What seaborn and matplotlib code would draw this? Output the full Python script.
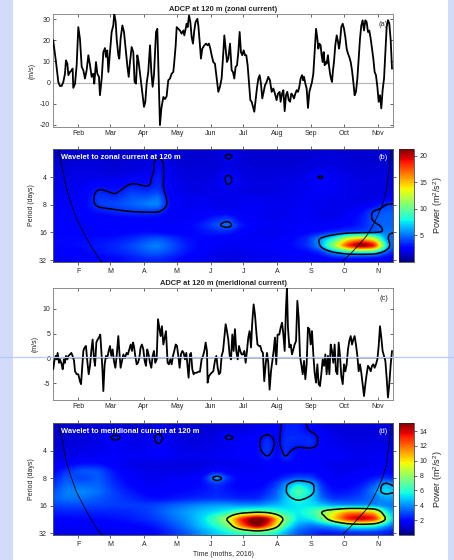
import numpy as np
import pandas as pd
import matplotlib
matplotlib.use("Agg")
import matplotlib.pyplot as plt
import matplotlib.dates as mdates
import seaborn as sns
from matplotlib.patches import Rectangle
from matplotlib.lines import Line2D

sns.set_theme(style="ticks")
plt.rcParams["font.family"] = ["Liberation Sans", "DejaVu Sans"]
plt.rcParams["mathtext.default"] = "regular"

# ---------------- data (day of year 2016, 0 = Jan 1) ----------------
zonal_doy = [8.0, 10.6, 12.7, 14.2, 15.8, 17.3, 18.8, 19.7, 21.0, 21.9, 23.4, 24.9, 25.8, 26.4, 28.0, 29.5,
             31.0, 32.5, 34.1, 35.6, 37.1, 38.6, 40.2, 41.7, 43.2, 44.7, 45.6, 47.2, 48.4, 49.9, 50.8, 52.4,
             53.9, 55.4, 56.3, 57.5, 58.5, 60.0, 61.5, 63.0, 63.9, 65.2, 66.1, 67.6, 68.5, 69.7, 71.3, 72.8,
             74.6, 75.8, 77.1, 78.3, 79.8, 81.3, 82.5, 83.8, 85.0, 86.2, 88.0, 89.9, 91.1, 92.3, 93.5, 95.0,
             96.6, 97.8, 99.0, 100.2, 102.1, 103.3, 104.5, 105.7, 107.0, 108.8, 110.3, 111.8, 113.3, 114.9,
             116.4, 117.9, 118.8, 120.1, 121.0, 122.5, 124.0, 125.5, 127.1, 128.0, 129.2, 130.1, 131.0, 132.3,
             133.5, 134.7, 135.9, 137.1, 138.3, 139.9, 140.8, 142.3, 143.2, 144.4, 146.3, 147.8, 149.3, 150.5,
             151.8, 153.0, 154.5, 156.0, 157.6, 159.1, 160.6, 162.1, 163.7, 164.6, 165.8, 167.0, 168.2, 169.8,
             171.3, 172.5, 173.7, 174.9, 176.2, 177.4, 178.6, 179.8, 181.0, 182.3, 183.5, 184.7, 185.9, 187.1,
             188.4, 189.6, 190.8, 192.0, 193.2, 194.4, 195.7, 196.9, 198.1, 199.3, 200.5, 201.8, 203.3, 204.8,
             206.3, 207.9, 209.4, 210.9, 212.4, 213.7, 215.2, 216.1, 217.4, 218.6, 219.8, 221.0, 222.2, 223.5,
             224.7, 225.9, 227.1, 228.3, 229.6, 230.8, 232.0, 233.2, 234.4, 235.7, 236.6, 237.5, 238.7, 239.9,
             241.1, 242.4, 243.6, 244.8, 246.0, 247.2, 248.5, 249.7, 250.6, 251.5, 252.7, 253.6, 254.6, 255.5,
             256.4, 257.3, 258.2, 259.4, 260.3, 261.3, 262.2, 263.1, 264.0, 264.9, 266.1, 267.4, 268.6, 269.5,
             270.4, 271.6, 272.9, 274.1, 275.3, 276.5, 277.7, 278.9, 280.2, 281.4, 282.6, 283.8, 285.0, 286.3,
             287.5, 288.7, 289.9, 291.1, 292.4, 293.6, 294.8, 296.0, 297.2, 298.5, 299.7, 300.9, 302.1, 303.3,
             304.6, 305.8, 307.0, 308.2, 309.4, 310.7, 311.9, 313.1, 314.3, 315.5, 316.8, 318.0]
zonal_u = [20.0, 9.7, 0.3, -1.6, -1.6, 0.3, 4.2, 10.5, 8.9, 3.5, 5.0, 5.8, 6.6, -2.5, -0.5, 8.2,
           26.2, 20.7, 7.4, 5.8, 1.9, 5.8, 12.9, 8.2, 2.7, 4.2, -0.5, 9.7, 4.2, 2.7, -6.0, 1.9,
           14.4, 16.3, 12.1, 15.2, 5.0, 14.4, 23.9, 27.0, 32.5, 28.6, 20.7, 12.9, 11.3, 20.7, 27.0, 23.9,
           14.4, 8.2, 2.7, 9.7, 16.8, 14.4, 0.3, -0.5, 12.9, 9.7, 1.9, -6.0, -11.5, -9.1, -0.5, 5.0,
           17.6, 5.0, -2.0, 3.5, 23.9, 25.4, 1.9, -20.1, -12.2, -6.8, -7.8, -6.5, 1.1, 1.9,
           4.2, 5.0, 9.7, 17.6, 26.2, 25.4, 24.6, 23.1, 24.6, 22.3, 25.4, 27.8, 26.2, 31.7,
           28.6, 21.5, 18.4, 24.6, 28.6, 30.1, 27.0, 17.6, 11.3, 16.0, 17.6, 18.4, 17.6, 18.4,
           16.0, 12.9, 9.7, 8.9, 1.9, -4.4, -2.0, 1.9, 14.4, 22.3, 16.0, 9.7, 11.3, 18.4,
           5.8, 5.0, 1.9, 7.4, 8.2, 14.4, 23.9, 14.4, 12.9, 15.2, 12.9, 12.9, 8.2, 0.3,
           -8.3, -9.1, -11.5, -13.8, -8.3, -2.8, 1.9, 3.5, -0.5, -7.5, -4.4, -1.3, 0.3, 2.7,
           1.1, -4.4, -2.8, -5.2, -8.3, -5.2, -4.4, -9.1, -5.2, -3.6, -13.5, -6.0, -4.4, -8.3,
           -9.1, -5.2, -6.0, -7.5, -5.2, -3.6, -4.4, -2.0, 1.9, 3.5, 1.1, 2.7, -0.5, -2.8,
           -12.0, -4.4, -2.0, 0.3, 4.2, 14.4, 25.4, 20.7, 16.0, 18.4, 17.6, 12.9, 9.7, 14.4,
           8.2, 9.7, 8.9, 12.9, 8.2, 4.2, 1.9, 0.3, 5.8, 9.7, 17.6, 22.3, 19.2, 16.0,
           19.2, 26.2, 27.8, 25.4, 21.5, 16.0, 13.7, 12.1, 9.7, 5.8, 0.3, -6.0, -4.4, 1.9,
           11.3, 20.7, 27.0, 29.4, 24.6, 29.4, 28.6, 23.9, 24.6, 20.7, 16.0, 11.3, 5.0, 3.5,
           -2.0, -9.1, -6.0, -12.2, -3.6, 1.9, 14.4, 26.2, 29.5, 28.0, 20.0, 6.5]

merid_doy = [8.1, 9.1, 10.3, 11.2, 12.1, 13.3, 14.2, 15.8, 16.7, 17.9, 18.8, 19.7, 21.0, 21.9, 23.4, 24.6,
             25.8, 27.1, 28.0, 29.5, 31.0, 32.5, 33.5, 34.7, 35.6, 36.8, 38.0, 39.2, 40.5, 41.7, 42.9, 44.1,
             45.3, 46.3, 47.5, 48.7, 49.9, 51.1, 52.0, 53.0, 53.9, 55.1, 56.3, 57.5, 58.8, 60.0, 61.2, 62.4,
             63.6, 64.9, 66.1, 67.6, 68.5, 69.7, 71.0, 72.2, 73.7, 75.2, 76.4, 77.7, 78.9, 80.1, 81.0, 81.9,
             83.1, 84.4, 85.6, 86.8, 88.0, 89.2, 90.5, 91.7, 92.9, 94.1, 95.3, 96.6, 97.8, 99.0, 100.2, 101.4,
             102.7, 103.9, 105.1, 106.3, 107.5, 108.8, 110.0, 111.2, 112.7, 113.9, 115.2, 116.4, 117.6, 118.8,
             120.1, 121.3, 122.5, 123.7, 124.9, 126.2, 127.4, 128.6, 129.8, 131.0, 131.9, 133.2, 134.1, 135.3,
             136.5, 137.7, 139.3, 140.8, 142.3, 143.8, 145.1, 146.3, 147.5, 148.7, 149.3, 150.5, 151.8, 153.0,
             154.5, 156.0, 157.3, 158.5, 159.7, 160.9, 162.1, 163.4, 164.6, 165.8, 167.0, 168.2, 169.5, 170.7,
             171.9, 173.1, 174.3, 175.5, 176.8, 178.0, 179.2, 180.4, 181.6, 182.9, 184.1, 185.3, 186.5, 187.7,
             189.0, 190.2, 191.4, 192.6, 193.8, 194.9, 196.3, 197.5, 198.7, 199.9, 201.1, 202.4, 203.6, 204.8,
             206.0, 207.3, 208.5, 209.7, 210.9, 212.1, 213.3, 214.9, 216.1, 217.4, 218.6, 219.8, 221.0, 221.9,
             222.8, 224.1, 225.3, 226.5, 227.7, 228.9, 230.2, 231.4, 232.6, 233.8, 235.0, 236.3, 237.5, 238.7,
             239.9, 241.1, 242.4, 243.6, 244.8, 246.0, 247.2, 248.5, 249.7, 250.9, 252.1, 253.3, 254.6, 255.8,
             257.0, 258.2, 259.4, 260.7, 261.9, 263.1, 264.3, 265.5, 266.7, 268.0, 269.2, 270.4, 271.6, 272.9,
             274.1, 275.3, 276.5, 277.7, 278.9, 280.2, 281.4, 282.6, 283.8, 285.0, 286.3, 287.5, 288.7, 289.9,
             291.1, 292.4, 293.6, 294.8, 296.0, 297.2, 298.5, 299.7, 300.9, 302.1, 303.3, 304.6, 305.8, 307.0,
             308.2, 309.4, 310.7, 311.9, 313.1, 314.3, 315.5, 316.8, 318.0]
merid_v = [-2.2, -0.5, 0.5, -0.2, 1.1, -0.9, -0.2, -1.2, -2.2, -0.2, -0.9, 0.5, -0.2, 0.5, 0.8, 1.1,
           0.5, -0.5, -2.6, -3.2, -3.2, -4.6, -5.2, -1.2, 1.5, 2.2, 2.5, -0.5, -3.2, -1.5, 1.5, 3.8,
           0.1, -1.5, 3.2, 3.8, 4.2, 4.8, 1.8, -1.9, -6.6, -1.2, 0.5, 0.1, 1.5, 2.5, 0.5, 1.8,
           -0.5, -1.9, 0.5, 4.5, 1.5, -1.9, -0.5, 0.8, 0.1, 1.1, 0.8, 1.8, 2.8, 1.5, 3.2, 2.5,
           0.5, -1.2, -0.9, 0.1, 2.2, 2.8, 1.8, -0.5, -1.5, 1.8, 0.8, -0.9, -1.9, 0.5, 1.5, -0.9,
           -0.2, 7.9, 6.2, 4.5, 6.5, 2.8, 4.2, 5.5, -0.9, -1.2, -0.2, -1.2, 0.5, 1.5,
           2.8, 2.5, 0.5, -1.9, 0.8, 1.5, 1.1, -0.2, 1.1, -1.9, -3.9, 0.8, 1.1, -2.2,
           -3.2, -2.9, -2.9, -2.7, -2.7, -0.2, 0.5, 1.5, 3.2, 1.5, -4.9, -3.6, -3.2, -2.9,
           -2.6, -0.5, 0.5, -1.9, -3.2, -2.9, 0.5, 1.5, 4.2, 6.9, 5.5, 3.8, 0.5, -0.2,
           4.8, 1.5, 5.9, 1.5, -0.2, 2.5, 1.5, 0.8, 0.8, 1.5, -0.9, 1.5, 4.2, 5.5,
           2.2, 7.5, 10.9, 8.9, 5.5, 2.8, 2.5, 2.5, 1.5, 1.1, -4.6, -1.2, 1.1, -0.9,
           -6.3, -2.6, -0.5, 1.5, 4.2, -1.2, 4.8, 4.8, 6.2, 7.2, 4.8, 1.5, 10.2, 14.3,
           6.2, 2.2, 2.8, 0.8, 1.8, 2.8, 3.5, 11.6, 8.2, 0.5, -1.2, -3.2, -0.5, -4.2,
           -1.2, 6.2, 5.9, 2.8, 5.5, 0.8, -2.9, -4.9, -1.2, -5.2, -5.6, -3.2, -0.2, -1.5,
           0.8, -3.2, 0.5, -3.2, 2.8, 1.5, -0.9, 2.8, -2.6, -3.2, 3.2, 0.5, -3.6, -5.2,
           -1.2, -2.6, -1.2, 1.8, 3.5, 4.5, 2.8, 3.8, 4.5, 2.8, 0.5, -2.6, -1.2, -2.9,
           -5.2, -7.6, -5.2, -3.2, -1.5, -1.9, -2.6, -1.5, -1.2, -1.9, -1.2, -0.2, 2.5, 6.5,
           4.2, 1.5, 0.5, -0.5, -3.9, -7.9, -5.2, -1.2, 1.5]

# wavelet power grids (rows: period, columns: day of year)
wl_period = [2.0, 2.38, 2.83, 3.36, 4.0, 4.76, 5.66, 6.73, 8.0, 9.51, 11.31, 13.45, 16.0, 19.03,
             22.63, 26.91, 32.0]
wl_doy_zonal = [8, 20, 35, 50, 65, 80, 95, 104, 115, 130, 145, 158, 168, 180, 195, 210, 225, 240, 252,
                265, 278, 290, 302, 312, 318]
power_zonal = [
    [1.4, 1.5, 1.5, 1.5, 1.5, 1.5, 1.6, 1.8, 1.6, 1.5, 1.5, 1.6, 1.7, 1.6, 1.5, 1.5, 1.5, 1.5, 1.6, 1.6, 1.5, 1.5, 1.5, 1.5, 1.5],
    [1.5, 1.5, 1.6, 1.6, 1.5, 1.6, 1.7, 2.3, 1.7, 1.5, 1.5, 1.6, 2.7, 1.7, 1.5, 1.5, 1.5, 1.6, 1.7, 1.7, 1.6, 1.5, 1.5, 1.5, 1.5],
    [1.6, 1.6, 1.7, 1.7, 1.6, 1.7, 1.8, 2.9, 1.8, 1.6, 1.6, 1.7, 1.9, 1.7, 1.6, 1.6, 1.6, 1.7, 1.8, 1.8, 1.7, 1.6, 1.6, 1.6, 1.6],
    [1.7, 1.8, 1.9, 1.8, 1.7, 1.8, 1.9, 3.1, 2.0, 1.7, 1.7, 1.8, 2.0, 1.8, 1.7, 1.7, 1.7, 1.8, 2.0, 2.0, 1.8, 1.7, 1.7, 1.8, 1.8],
    [1.8, 1.9, 2.0, 2.0, 1.9, 2.1, 2.5, 3.4, 2.1, 1.8, 1.8, 1.9, 3.2, 1.9, 1.8, 1.8, 1.9, 2.0, 3.1, 2.2, 2.0, 1.8, 1.8, 1.9, 1.9],
    [1.9, 2.0, 2.1, 2.5, 2.4, 3.1, 2.8, 3.6, 2.2, 1.9, 1.9, 2.0, 3.3, 2.0, 1.9, 1.9, 2.0, 2.1, 2.4, 2.3, 2.0, 1.9, 1.9, 1.9, 1.9],
    [2.0, 2.1, 2.3, 3.4, 3.0, 3.8, 3.5, 4.0, 2.3, 1.9, 1.9, 2.0, 2.0, 1.9, 1.8, 1.9, 2.0, 2.1, 2.3, 2.3, 2.0, 1.9, 1.8, 1.9, 1.9],
    [2.1, 2.2, 2.4, 3.9, 3.6, 4.5, 4.5, 5.2, 2.6, 2.1, 2.2, 2.0, 2.0, 2.1, 2.1, 2.0, 2.1, 2.2, 2.2, 2.1, 2.0, 1.9, 1.9, 2.1, 2.1],
    [2.2, 2.3, 2.5, 4.0, 4.3, 4.8, 5.5, 5.8, 2.8, 2.1, 2.2, 2.1, 2.0, 2.2, 2.2, 2.1, 2.1, 2.2, 2.1, 2.0, 2.0, 2.0, 2.4, 3.7, 3.9],
    [2.3, 2.4, 2.5, 3.2, 3.6, 3.9, 4.0, 4.0, 2.6, 2.2, 2.3, 2.2, 2.2, 2.2, 2.2, 2.1, 2.2, 2.3, 2.1, 2.0, 2.2, 2.8, 4.2, 4.5, 4.6],
    [2.4, 2.4, 2.4, 2.4, 2.6, 2.7, 2.7, 2.6, 2.3, 2.2, 2.7, 3.5, 3.8, 2.5, 2.2, 2.1, 2.2, 2.3, 2.1, 2.1, 2.4, 3.2, 4.5, 4.8, 4.7],
    [2.5, 2.5, 2.4, 2.3, 2.4, 2.6, 2.6, 2.5, 2.3, 2.6, 3.4, 4.5, 5.4, 3.2, 2.3, 2.2, 2.3, 2.4, 2.3, 2.4, 2.7, 3.3, 4.4, 4.8, 4.8],
    [2.6, 2.6, 2.5, 2.4, 2.5, 2.7, 2.8, 2.7, 2.4, 2.5, 3.0, 3.4, 3.4, 2.6, 2.2, 2.1, 2.3, 2.6, 2.8, 3.4, 3.8, 4.0, 4.3, 5.2, 5.1],
    [2.8, 2.8, 2.8, 2.9, 3.1, 3.5, 4.3, 4.6, 4.0, 3.0, 2.7, 2.5, 2.4, 2.3, 2.2, 2.2, 2.6, 3.5, 5.8, 8.5, 13.5, 15.5, 13.0, 6.0, 4.6],
    [2.8, 2.8, 2.9, 3.1, 3.5, 4.2, 5.2, 5.5, 4.6, 3.3, 2.6, 2.3, 2.2, 2.2, 2.3, 2.4, 2.8, 3.6, 5.8, 12.0, 19.5, 23.0, 20.5, 9.0, 4.5],
    [2.4, 2.5, 2.7, 3.0, 3.3, 3.8, 4.6, 4.7, 4.1, 3.1, 2.4, 2.1, 2.0, 2.1, 2.2, 2.3, 2.5, 2.7, 3.3, 5.5, 7.0, 7.2, 7.0, 4.5, 3.3],
    [2.0, 2.1, 2.3, 2.5, 2.7, 3.1, 3.4, 3.4, 3.1, 2.5, 2.1, 1.9, 1.8, 1.9, 2.0, 2.1, 2.2, 2.2, 2.3, 2.6, 2.5, 2.3, 2.1, 2.0, 2.0],
]
wl_doy_merid = [8, 20, 35, 50, 65, 80, 95, 104, 115, 130, 145, 158, 168, 180, 195, 204, 213, 220, 232,
                245, 255, 265, 278, 290, 302, 312, 318]
power_merid = [
    [1.0, 1.1, 1.1, 1.2, 1.2, 1.1, 1.1, 1.3, 1.2, 1.1, 1.1, 1.2, 1.2, 1.3, 1.4, 1.5, 1.5, 2.3, 2.3, 1.6, 1.4, 1.3, 1.2, 1.2, 1.2, 1.3, 1.3],
    [1.0, 1.1, 1.1, 1.2, 1.3, 1.2, 1.2, 1.8, 1.3, 1.1, 1.2, 1.2, 1.3, 1.3, 1.5, 1.6, 1.6, 2.4, 2.4, 1.8, 1.5, 1.3, 1.2, 1.2, 1.2, 1.3, 1.3],
    [1.1, 1.1, 1.2, 1.3, 2.4, 1.3, 1.4, 2.4, 1.4, 1.2, 1.3, 1.3, 2.4, 1.6, 1.8, 2.3, 1.7, 2.5, 2.5, 2.4, 1.6, 1.4, 1.3, 1.3, 1.3, 1.3, 1.3],
    [1.1, 1.2, 1.3, 1.4, 1.7, 1.4, 1.5, 2.2, 1.5, 1.3, 1.3, 1.4, 1.6, 1.6, 1.9, 2.8, 1.8, 2.6, 2.4, 2.6, 1.6, 1.5, 1.4, 1.3, 1.4, 1.4, 1.4],
    [1.2, 1.3, 1.4, 1.5, 1.6, 1.5, 1.6, 1.8, 1.6, 1.4, 1.4, 1.5, 1.6, 1.7, 2.0, 2.8, 1.8, 2.6, 1.9, 2.0, 1.6, 1.6, 1.5, 1.4, 1.5, 1.5, 1.5],
    [1.3, 1.4, 1.5, 1.6, 1.7, 1.6, 1.6, 1.7, 1.6, 1.5, 1.5, 1.6, 1.6, 1.7, 1.9, 2.6, 1.8, 2.7, 1.8, 1.7, 1.6, 1.7, 1.6, 1.5, 1.6, 1.6, 1.6],
    [1.5, 1.8, 2.2, 2.1, 1.6, 1.4, 1.3, 1.3, 1.3, 1.3, 1.3, 1.4, 1.4, 1.5, 1.6, 1.7, 1.6, 1.9, 1.8, 1.7, 1.6, 1.4, 1.4, 1.4, 1.5, 1.6, 1.6],
    [1.8, 2.6, 3.3, 3.2, 2.1, 1.6, 1.4, 1.4, 1.4, 1.4, 1.4, 1.9, 1.6, 1.6, 1.6, 1.7, 1.7, 1.8, 1.9, 1.9, 1.7, 1.5, 1.5, 1.6, 1.7, 1.8, 1.8],
    [2.2, 3.2, 2.8, 3.3, 2.3, 1.7, 1.5, 1.5, 1.6, 1.6, 2.1, 4.7, 2.7, 1.7, 1.7, 1.8, 2.1, 2.5, 3.0, 2.8, 1.9, 1.6, 1.7, 1.9, 2.2, 2.6, 2.4],
    [2.6, 3.5, 3.4, 3.4, 2.5, 1.9, 1.6, 1.6, 1.7, 1.8, 2.0, 2.6, 2.1, 1.8, 1.8, 2.1, 2.8, 4.0, 5.6, 4.6, 2.4, 1.8, 1.9, 2.2, 3.2, 4.8, 4.2],
    [3.1, 3.8, 4.0, 3.6, 2.8, 2.2, 1.8, 1.8, 1.9, 2.0, 2.2, 2.4, 2.2, 2.0, 2.1, 2.5, 3.4, 4.5, 7.2, 5.2, 2.8, 2.1, 2.2, 2.7, 4.0, 5.5, 5.0],
    [3.3, 3.7, 3.6, 3.2, 2.8, 2.5, 2.1, 2.0, 2.1, 2.3, 2.5, 2.6, 2.5, 2.3, 2.4, 3.0, 3.6, 4.8, 6.0, 5.0, 3.3, 2.6, 2.7, 3.0, 3.6, 4.4, 4.3],
    [2.9, 3.0, 3.0, 2.9, 2.8, 2.8, 2.8, 3.0, 3.3, 3.7, 4.1, 4.3, 4.3, 4.0, 4.0, 4.3, 4.7, 5.0, 5.4, 5.3, 4.8, 4.1, 3.8, 3.8, 3.8, 3.7, 3.6],
    [2.3, 2.4, 2.4, 2.4, 2.4, 2.5, 2.8, 3.2, 3.7, 4.3, 4.9, 5.3, 5.8, 6.8, 7.3, 7.1, 6.3, 5.8, 5.4, 6.4, 8.0, 9.5, 11.5, 11.5, 10.5, 6.0, 4.5],
    [1.9, 1.9, 2.0, 2.0, 2.1, 2.3, 2.6, 2.9, 3.4, 4.1, 5.2, 7.0, 9.0, 13.5, 16.5, 15.0, 11.0, 8.0, 5.2, 5.6, 7.5, 10.5, 14.0, 15.0, 14.0, 9.0, 5.0],
    [1.6, 1.6, 1.7, 1.7, 1.8, 1.9, 2.1, 2.4, 2.9, 3.8, 5.0, 6.0, 7.5, 12.0, 16.0, 13.0, 9.5, 6.5, 4.2, 3.6, 4.0, 4.5, 6.0, 6.5, 6.0, 4.5, 3.5],
    [1.4, 1.4, 1.5, 1.5, 1.5, 1.6, 1.8, 2.0, 2.5, 3.2, 4.2, 5.0, 5.5, 6.0, 6.5, 6.2, 5.5, 4.6, 3.2, 2.6, 2.2, 2.2, 2.4, 2.5, 2.5, 2.3, 2.1],
]
# 95% significance power level for each period row
signif_zonal = [2.2, 2.3, 2.4, 2.6, 2.8, 3.0, 3.2, 3.4, 3.6, 3.9, 4.2, 4.6, 5.0, 5.5, 6.0, 6.5, 7.0]
signif_merid = [1.9, 1.95, 2.0, 2.1, 2.3, 2.6, 3.0, 3.5, 3.6, 4.2, 4.8, 5.6, 6.5, 7.5, 8.5, 9.0, 9.5]

# cone of influence
coi_left_doy = [12.5, 16.0, 20.1, 24.0, 29.2, 38.4, 44.0, 50.6, 53.5]
coi_left_period = [1.9, 3.0, 5.3, 7.5, 11.2, 18.4, 24.0, 31.6, 34.0]
coi_right_doy = [273.1, 282.3, 288.0, 294.5, 300.0, 305.2, 309.5, 312.8, 315.8, 317.4]
coi_right_period = [32.9, 25.6, 21.5, 17.6, 13.8, 10.3, 7.8, 5.7, 2.9, 1.9]

month_doy = [31, 60, 91, 121, 152, 182, 213, 244, 274, 305]
month_names = ["Feb", "Mar", "Apr", "May", "Jun", "Jul", "Aug", "Sep", "Oct", "Nov"]
month_letters = ["F", "M", "A", "M", "J", "J", "A", "S", "O", "N"]

# ---------------- helpers ----------------
BASE = mdates.date2num(np.datetime64("2016-01-01"))


def to_dt(doy):
    secs = np.round(np.asarray(doy, dtype=float) * 86400).astype("int64")
    return np.datetime64("2016-01-01T00:00:00") + secs.astype("timedelta64[s]")


def gsmooth(Z, st, sl):
    def kern(s):
        r = int(np.ceil(3 * s))
        x = np.arange(-r, r + 1)
        w = np.exp(-0.5 * (x / s) ** 2)
        return w / w.sum(), r
    w, r = kern(st)
    Zp = np.pad(Z, ((0, 0), (r, r)), mode="edge")
    Z = np.array([np.convolve(v, w, mode="valid") for v in Zp])
    w, r = kern(sl)
    Zp = np.pad(Z, ((r, r), (0, 0)), mode="edge")
    Z = np.array([np.convolve(v, w, mode="valid") for v in Zp.T]).T
    return Z


t_f = np.arange(7.0, 320.0, 0.5)
L_f = np.arange(0.9, 5.2, 0.02)


def field(cols, grid):
    g = np.asarray(grid, dtype=float)
    Lr = np.log2(wl_period)
    tmp = np.array([np.interp(t_f, cols, row) for row in g])
    out = np.array([np.interp(L_f, Lr, tmp[:, j]) for j in range(tmp.shape[1])]).T
    return gsmooth(out, 4.0, 2.5)


def sig_field(sig):
    return np.interp(L_f, np.log2(wl_period), sig)[:, None]


XLIM = (BASE + 7.85, BASE + 318.9)
TICK_X = [BASE + d for d in month_doy]

fig = plt.figure(figsize=(4.54, 5.6), dpi=100)
fig.patch.set_facecolor("#d2dcfa")
fig.patches.append(Rectangle((13 / 454, 0), 435 / 454, 1, transform=fig.transFigure,
                             facecolor="white", edgecolor="none", zorder=-5))

W, H = 454.0, 560.0


def box(x0, y_top, w, h):
    return [x0 / W, 1 - (y_top + h) / H, w / W, h / H]


axA = fig.add_axes(box(53, 14, 340, 113))
axB = fig.add_axes(box(53, 149, 340, 113))
axC = fig.add_axes(box(53, 288, 340, 112))
axD = fig.add_axes(box(53, 423, 340, 112))
caxB = fig.add_axes(box(399, 149, 15, 113))
caxD = fig.add_axes(box(399, 423, 15, 112))

FS = 5.0
FT = 5.4


def style_ts(ax, ylim, yticks, title, tag):
    ax.axhline(0, color="#b4b4b4", lw=0.8, zorder=1)
    ax.set_xlim(*XLIM)
    ax.set_ylim(*ylim)
    ax.set_yticks(yticks)
    ax.set_yticklabels([str(v) for v in yticks])
    ax.set_xticks(TICK_X)
    ax.set_xticklabels(month_names)
    ax.set_xlabel("")
    ax.set_ylabel("(m/s)", fontsize=FS, labelpad=3)
    ax.tick_params(labelsize=FS, length=2.5, width=0.5, direction="in", top=True, right=True, pad=2)
    for s in ax.spines.values():
        s.set_color("#8c8c8c")
        s.set_linewidth(0.7)
    ax.set_title(title, fontsize=FT, fontweight="bold", pad=2)
    ax.text(0.985, 0.91, tag, transform=ax.transAxes, ha="right", va="center", fontsize=FT)


dfA = pd.DataFrame({"date": to_dt(zonal_doy), "u": zonal_u})
sns.lineplot(data=dfA, x="date", y="u", ax=axA, color="black", linewidth=1.3, zorder=3)
style_ts(axA, (-21, 32.4), [-20, -10, 0, 10, 20, 30], "ADCP at 120 m (zonal current)", "(a)")

dfC = pd.DataFrame({"date": to_dt(merid_doy), "v": merid_v})
sns.lineplot(data=dfC, x="date", y="v", ax=axC, color="black", linewidth=1.3, zorder=3)
style_ts(axC, (-8.4, 14.2), [-5, 0, 5, 10], "ADCP at 120 m (meridional current)", "(c)")


def wavelet(ax, cax, cols, grid, sig, vmax, cticks, text, tag):
    Z = field(cols, grid)
    S = sig_field(sig)
    X = BASE + t_f
    Y = 2.0 ** L_f
    mesh = ax.pcolormesh(X, Y, Z, cmap="jet", vmin=0, vmax=vmax, shading="gouraud", rasterized=True)
    ax.contour(X, Y, Z / S, levels=[1.0], colors="black", linewidths=1.1)
    ax.plot(BASE + np.asarray(coi_left_doy), coi_left_period, color="black", lw=0.6)
    ax.plot(BASE + np.asarray(coi_right_doy), coi_right_period, color="black", lw=0.6)
    ax.set_yscale("log", base=2)
    ax.set_ylim(33.6, 1.97)
    ax.set_xlim(*XLIM)
    ax.set_yticks([4, 8, 16, 32])
    ax.set_yticklabels(["4", "8", "16", "32"])
    ax.yaxis.set_minor_locator(matplotlib.ticker.NullLocator())
    ax.set_xticks(TICK_X)
    ax.set_xticklabels(month_letters)
    ax.set_ylabel("Period (days)", fontsize=FS, labelpad=3)
    ax.tick_params(labelsize=FS, length=2.5, width=0.5, direction="out", top=True, right=True, pad=2)
    for s in ax.spines.values():
        s.set_color("#555555")
        s.set_linewidth(0.7)
    ax.text(0.024, 0.925, text, transform=ax.transAxes, ha="left", va="center",
            fontsize=FT, fontweight="bold", color="white")
    ax.text(0.985, 0.925, tag, transform=ax.transAxes, ha="right", va="center",
            fontsize=FT, color="white")
    cb = fig.colorbar(mesh, cax=cax)
    cb.set_ticks(cticks)
    cb.ax.tick_params(labelsize=FS, length=2, width=0.5, pad=2)
    cb.outline.set_linewidth(0.5)
    cb.set_label("Power (m$^2$/s$^2$)", fontsize=6.5, labelpad=3)


wavelet(axB, caxB, wl_doy_zonal, power_zonal, signif_zonal, 21.3, [5, 10, 15, 20],
        "Wavelet to zonal current at 120 m", "(b)")
wavelet(axD, caxD, wl_doy_merid, power_merid, signif_merid, 15.1, [2, 4, 6, 8, 10, 12, 14],
        "Wavelet to meridional current at 120 m", "(d)")
axD.set_xlabel("Time (moths, 2016)", fontsize=FS, labelpad=2)

# light-blue guide line crossing the page
fig.add_artist(Line2D([0, 1], [1 - 357 / H, 1 - 357 / H], transform=fig.transFigure,
                      color="#b9c9f6", lw=0.9, zorder=20))

fig.savefig("out.png", dpi=100, facecolor=fig.get_facecolor())
